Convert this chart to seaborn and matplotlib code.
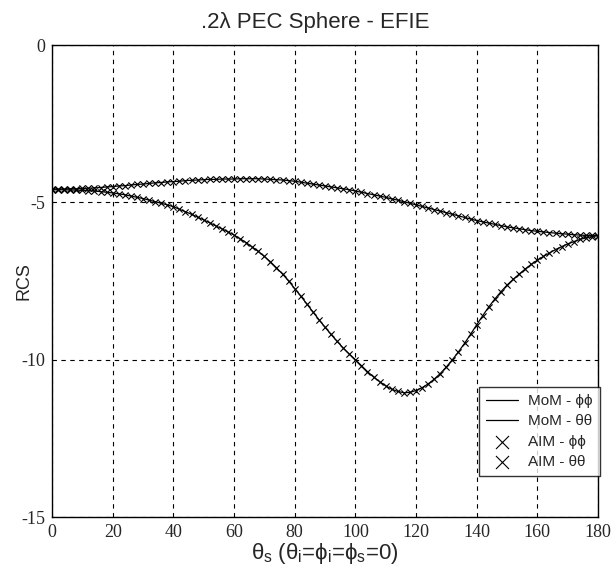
import numpy as np
import pandas as pd
import matplotlib
matplotlib.use("Agg")
import matplotlib.pyplot as plt
import seaborn as sns

# ---- data ----
theta_s = list(range(0, 181, 2))

mom_phiphi = [
    -4.58, -4.58, -4.58, -4.57, -4.57, -4.56, -4.55, -4.54, -4.53, -4.51,
    -4.50, -4.48, -4.47, -4.45, -4.43, -4.42, -4.40, -4.38, -4.37, -4.35,
    -4.34, -4.33, -4.31, -4.30, -4.29, -4.28, -4.27, -4.27, -4.26, -4.26,
    -4.26, -4.25, -4.25, -4.25, -4.25, -4.26, -4.27, -4.28, -4.29, -4.31,
    -4.33, -4.36, -4.39, -4.42, -4.45, -4.48, -4.51, -4.54, -4.57, -4.60,
    -4.64, -4.68, -4.72, -4.76, -4.80, -4.84, -4.89, -4.93, -4.98, -5.03,
    -5.08, -5.13, -5.18, -5.23, -5.28, -5.33, -5.38, -5.43, -5.48, -5.53,
    -5.58, -5.62, -5.66, -5.70, -5.74, -5.78, -5.81, -5.84, -5.87, -5.90,
    -5.92, -5.94, -5.96, -5.98, -6.00, -6.01, -6.03, -6.04, -6.05, -6.05,
    -6.06,
]

mom_thetatheta = [
    -4.60, -4.60, -4.60, -4.61, -4.61, -4.62, -4.63, -4.64, -4.66, -4.68,
    -4.70, -4.73, -4.76, -4.80, -4.84, -4.88, -4.93, -4.98, -5.03, -5.08,
    -5.14, -5.22, -5.30, -5.38, -5.47, -5.56, -5.65, -5.75, -5.84, -5.94,
    -6.04, -6.16, -6.28, -6.42, -6.56, -6.72, -6.89, -7.08, -7.28, -7.50,
    -7.74, -7.98, -8.23, -8.48, -8.73, -8.97, -9.20, -9.42, -9.63, -9.82,
    -10.00, -10.19, -10.38, -10.55, -10.70, -10.83, -10.94, -11.01, -11.05, -11.04,
    -10.98, -10.89, -10.77, -10.62, -10.44, -10.23, -10.00, -9.75, -9.48, -9.19,
    -8.89, -8.60, -8.32, -8.07, -7.84, -7.63, -7.45, -7.28, -7.12, -6.97,
    -6.84, -6.72, -6.61, -6.50, -6.41, -6.32, -6.25, -6.18, -6.13, -6.09,
    -6.06,
]

# AIM results coincide with MoM in the reference
aim_phiphi = list(mom_phiphi)
aim_thetatheta = list(mom_thetatheta)

x_ticks = [0, 20, 40, 60, 80, 100, 120, 140, 160, 180]
y_ticks = [-15, -10, -5, 0]

# ---- style ----
sns.set_theme(style="white")
plt.rcParams["font.family"] = ["Liberation Sans", "DejaVu Sans"]
plt.rcParams["mathtext.fontset"] = "custom"
plt.rcParams["mathtext.rm"] = "Liberation Sans"
plt.rcParams["mathtext.it"] = "Liberation Sans"

fig = plt.figure(figsize=(6.15, 5.74), dpi=100)
ax = fig.add_axes([0.0846, 0.0993, 0.8878, 0.8223])

sns.lineplot(x=theta_s, y=mom_phiphi, ax=ax, color="black", linewidth=0.9,
             label="MoM - \u03d5\u03d5")
sns.lineplot(x=theta_s, y=mom_thetatheta, ax=ax, color="black", linewidth=0.9,
             label="MoM - \u03b8\u03b8")
sns.scatterplot(x=theta_s, y=aim_phiphi, ax=ax, marker="x", color="black",
                s=20, linewidth=0.8, label="AIM - \u03d5\u03d5")
sns.scatterplot(x=theta_s, y=aim_thetatheta, ax=ax, marker="x", color="black",
                s=20, linewidth=0.8, label="AIM - \u03b8\u03b8")

ax.set_xlim(0, 180)
ax.set_ylim(-15, 0)
ax.set_xticks(x_ticks)
ax.set_yticks(y_ticks)
ax.set_xticklabels([str(v) for v in x_ticks], fontfamily="Liberation Serif", fontsize=13)
ax.set_yticklabels([str(v) for v in y_ticks], fontfamily="Liberation Serif", fontsize=13)
ax.tick_params(length=0, pad=5)

ax.grid(True, color="black", linestyle=(0, (4, 4)), linewidth=0.8)
for sp in ax.spines.values():
    sp.set_color("black")
    sp.set_linewidth(1.0)

ax.set_title(".2\u03bb PEC Sphere - EFIE", fontsize=16, pad=12, x=0.482)
ax.set_ylabel("RCS", fontsize=13)
ax.yaxis.set_label_coords(-0.035, 0.5)
ax.set_xlabel(r"$\theta_s$ ($\theta_i$=$\phi_i$=$\phi_s$=0)", fontsize=16)
ax.xaxis.set_label_coords(0.5, -0.05)
ax.xaxis.label.set_va("top")

leg = ax.legend(loc="upper right", bbox_to_anchor=(1.003, 0.275), fontsize=11,
                frameon=True, fancybox=False, edgecolor="black",
                borderaxespad=0.0, handlelength=2.1, handletextpad=0.65,
                borderpad=0.45, labelspacing=0.42, markerscale=2.1)
leg.get_frame().set_linewidth(1.0)

fig.savefig("out.png", dpi=100)
